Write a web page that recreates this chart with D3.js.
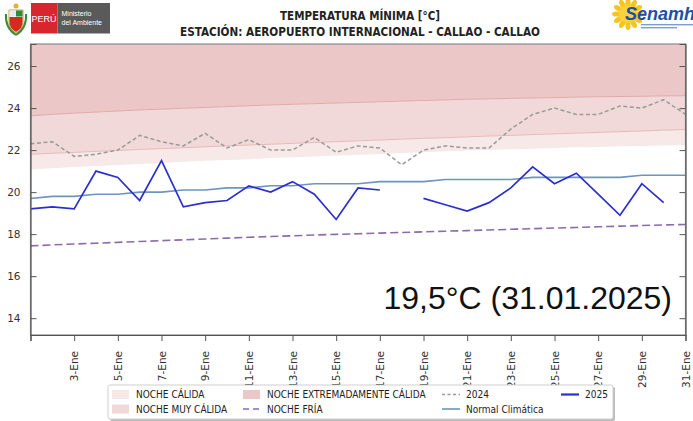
<!DOCTYPE html>
<html>
<head>
<meta charset="utf-8">
<title>Temperatura mínima - Callao</title>
<script src="https://cdn.jsdelivr.net/npm/d3@7"></script>
<style>
  body { margin: 0; background: #fff; }
  svg { display: block; font-family: "DejaVu Sans Condensed", "DejaVu Sans", sans-serif; }
</style>
</head>
<body>
<svg width="693" height="421"></svg>
<script>
// dias de enero
var days = [1, 2, 3, 4, 5, 6, 7, 8, 9, 10, 11, 12, 13, 14, 15, 16, 17, 18, 19, 20, 21, 22, 23, 24, 25, 26, 27, 28, 29, 30, 31];
var tickDays = [3, 5, 7, 9, 11, 13, 15, 17, 19, 21, 23, 25, 27, 29, 31];
var tickLabels = ["3-Ene", "5-Ene", "7-Ene", "9-Ene", "11-Ene", "13-Ene", "15-Ene", "17-Ene", "19-Ene", "21-Ene", "23-Ene", "25-Ene", "27-Ene", "29-Ene", "31-Ene"];
var yTicks = [14, 16, 18, 20, 22, 24, 26];

var t2025 = [19.2, 19.3, 19.2, 21.0, 20.7, 19.6, 21.5, 19.3, 19.5, 19.6, 20.3, 20.0, 20.5, 19.9, 18.7, 20.2, 20.1, null, 19.7, 19.4, 19.1, 19.5, 20.2, 21.2, 20.4, 20.9, 19.9, 18.9, 20.4, 19.5, null];
var t2024 = [22.3, 22.4, 21.7, 21.8, 22.0, 22.7, 22.4, 22.2, 22.8, 22.1, 22.5, 22.0, 22.0, 22.6, 21.9, 22.2, 22.1, 21.3, 22.0, 22.2, 22.1, 22.1, 23.0, 23.7, 24.0, 23.7, 23.7, 24.1, 24.0, 24.4, 23.7];
var normal = [19.7, 19.8, 19.8, 19.9, 19.9, 20.0, 20.0, 20.1, 20.1, 20.2, 20.2, 20.3, 20.3, 20.4, 20.4, 20.4, 20.5, 20.5, 20.5, 20.6, 20.6, 20.6, 20.6, 20.7, 20.7, 20.7, 20.7, 20.7, 20.8, 20.8, 20.8];
// umbrales
var limCalida = [21.08, 21.14, 21.19, 21.24, 21.29, 21.34, 21.39, 21.44, 21.49, 21.53, 21.57, 21.62, 21.66, 21.70, 21.74, 21.78, 21.82, 21.86, 21.90, 21.94, 21.98, 22.01, 22.04, 22.07, 22.10, 22.13, 22.15, 22.18, 22.20, 22.22, 22.24];
var limMuyCalida = [21.80, 21.85, 21.89, 21.94, 21.98, 22.03, 22.07, 22.11, 22.16, 22.20, 22.24, 22.28, 22.32, 22.36, 22.40, 22.44, 22.48, 22.52, 22.56, 22.59, 22.63, 22.67, 22.70, 22.74, 22.77, 22.81, 22.84, 22.88, 22.91, 22.95, 22.98];
var limExtrema = [23.63, 23.70, 23.76, 23.81, 23.86, 23.91, 23.95, 23.99, 24.03, 24.07, 24.11, 24.15, 24.18, 24.21, 24.24, 24.27, 24.30, 24.33, 24.36, 24.39, 24.42, 24.44, 24.46, 24.48, 24.50, 24.52, 24.54, 24.55, 24.56, 24.58, 24.59];
var limFria = [17.44, 17.49, 17.53, 17.57, 17.61, 17.65, 17.69, 17.73, 17.77, 17.81, 17.85, 17.89, 17.92, 17.96, 17.99, 18.02, 18.05, 18.08, 18.11, 18.14, 18.17, 18.20, 18.23, 18.26, 18.29, 18.32, 18.35, 18.38, 18.41, 18.44, 18.46];

var svg = d3.select("svg");
var L = 30.5, R = 685.5, T = 44, B = 335;
var x = d3.scaleLinear().domain([1, 31]).range([L, R]);
var y = d3.scaleLinear().domain([13.2, 27.05]).range([B, T]);

svg.append("clipPath").attr("id", "clip")
  .append("rect").attr("x", L).attr("y", T).attr("width", R - L).attr("height", B - T);
var plot = svg.append("g").attr("clip-path", "url(#clip)");

// bandas
function band(lo, hi, fill) {
  var area = d3.area()
    .x(function (d, i) { return x(days[i]); })
    .y0(function (d, i) { return y(lo[i]); })
    .y1(function (d, i) { return y(hi ? hi[i] : 27.05); });
  plot.append("path").datum(days).attr("d", area).attr("fill", fill);
}
band(limExtrema, null, "#ebc7c7");
band(limMuyCalida, limExtrema, "#f2d9d9");
band(limCalida, limMuyCalida, "#f6e9e8");

function line(vals, color, width, dash) {
  var ln = d3.line()
    .defined(function (d, i) { return vals[i] != null; })
    .x(function (d, i) { return x(days[i]); })
    .y(function (d, i) { return y(vals[i]); });
  var p = plot.append("path").datum(days).attr("d", ln)
    .attr("fill", "none").attr("stroke", color).attr("stroke-width", width);
  if (dash) p.attr("stroke-dasharray", dash);
  return p;
}
line(limExtrema, "#e3a9a9", 1);
line(limMuyCalida, "#e8b9b9", 1);
line(limFria, "#8c6bab", 1.6, "8,4");
line(normal, "#6d95bf", 1.6);
line(t2024, "#9a9a9a", 1.5, "4,2.5");
line(t2025, "#2b2fd0", 1.7);

// marco
svg.append("rect").attr("x", L).attr("y", T).attr("width", R - L).attr("height", B - T)
  .attr("fill", "none").attr("stroke", "#8a8a8a").attr("stroke-width", 1.2);

// ejes
var yAxis = svg.append("g").attr("transform", "translate(" + L + ",0)")
  .call(d3.axisLeft(y).tickValues(yTicks).tickSize(-6).tickPadding(10).tickFormat(d3.format("d")));
var yAxisR = svg.append("g").attr("transform", "translate(" + R + ",0)")
  .call(d3.axisRight(y).tickValues(yTicks).tickSize(-6).tickFormat(""));
var xAxis = svg.append("g").attr("transform", "translate(0," + B + ")")
  .call(d3.axisBottom(x).tickValues([1].concat(tickDays)).tickSize(6)
    .tickFormat(function (d) { var k = tickDays.indexOf(d); return k < 0 ? "" : tickLabels[k]; }));
[yAxis, yAxisR, xAxis].forEach(function (g) {
  g.select(".domain").attr("stroke", "#555").attr("stroke-width", 1.2);
  g.selectAll(".tick line").attr("stroke", "#555");
  g.selectAll("text").attr("fill", "#333").attr("font-size", 10.5)
    .attr("font-family", "DejaVu Sans, sans-serif");
});
xAxis.selectAll(".tick text")
  .attr("transform", "rotate(-90)")
  .attr("text-anchor", "end")
  .attr("x", -16).attr("y", 0).attr("dy", "0.35em");

// anotacion
svg.append("text").attr("x", 672).attr("y", 309).attr("text-anchor", "end")
  .attr("font-family", "Liberation Sans, Arial, sans-serif").attr("font-size", 32)
  .attr("fill", "#111").text("19,5°C (31.01.2025)");

// titulo
svg.append("text").attr("x", 360).attr("y", 20).attr("text-anchor", "middle")
  .attr("font-weight", "bold").attr("font-size", 12.5).attr("fill", "#222")
  .attr("textLength", 160).attr("lengthAdjust", "spacingAndGlyphs")
  .text("TEMPERATURA MÍNIMA [°C]");
svg.append("text").attr("x", 360).attr("y", 36).attr("text-anchor", "middle")
  .attr("font-weight", "bold").attr("font-size", 12.5).attr("fill", "#222")
  .attr("textLength", 360).attr("lengthAdjust", "spacingAndGlyphs")
  .text("ESTACIÓN: AEROPUERTO INTERNACIONAL - CALLAO - CALLAO");

// logos (simplificados)
var lg = svg.append("g");
lg.append("path").attr("d", "M9,10 L23,10 L23,22 Q23,30 16,33 Q9,30 9,22 Z")
  .attr("fill", "#fff").attr("stroke", "#c8a22c").attr("stroke-width", 1);
lg.append("rect").attr("x", 9.5).attr("y", 10.5).attr("width", 6.5).attr("height", 6).attr("fill", "#e7eaf0");
lg.append("rect").attr("x", 16).attr("y", 10.5).attr("width", 6.5).attr("height", 6).attr("fill", "#2e8b3e");
lg.append("path").attr("d", "M9.5,17 L22.5,17 L22.5,22 Q22.5,29 16,32 Q9.5,29 9.5,22 Z").attr("fill", "#d52b1e");
lg.append("path").attr("d", "M6,14 Q5,28 16,35 M26,14 Q27,28 16,35").attr("fill", "none")
  .attr("stroke", "#3f8a3a").attr("stroke-width", 2);
lg.append("circle").attr("cx", 16).attr("cy", 6).attr("r", 2.5).attr("fill", "#d9b13b");
lg.append("rect").attr("x", 31).attr("y", 3).attr("width", 26.5).attr("height", 30.5).attr("fill", "#d7262e");
lg.append("rect").attr("x", 57.5).attr("y", 3).attr("width", 52.5).attr("height", 30.5).attr("fill", "#5a5a5a");
lg.append("text").attr("x", 44).attr("y", 21.5).attr("text-anchor", "middle").attr("fill", "#fff")
  .attr("font-size", 9).attr("font-family", "Liberation Sans Narrow, Liberation Sans, sans-serif").text("PERÚ");
lg.append("text").attr("x", 61.5).attr("y", 16).attr("fill", "#fff").attr("font-size", 7)
  .attr("font-family", "Liberation Sans, sans-serif").text("Ministerio");
lg.append("text").attr("x", 61.5).attr("y", 25).attr("fill", "#fff").attr("font-size", 7)
  .attr("font-family", "Liberation Sans, sans-serif").text("del Ambiente");

var sg = svg.append("g");
var sunC = [628, 14];
d3.range(0, 360, 30).forEach(function (a) {
  var r = a * Math.PI / 180;
  sg.append("ellipse").attr("cx", sunC[0] + Math.cos(r) * 11).attr("cy", sunC[1] + Math.sin(r) * 11)
    .attr("rx", 5).attr("ry", 2.6).attr("fill", "#f7c51e")
    .attr("transform", "rotate(" + a + "," + (sunC[0] + Math.cos(r) * 11) + "," + (sunC[1] + Math.sin(r) * 11) + ")");
});
sg.append("circle").attr("cx", sunC[0]).attr("cy", sunC[1]).attr("r", 9).attr("fill", "#f9d33a");
sg.append("text").attr("x", 625).attr("y", 20).attr("font-weight", "bold").attr("font-style", "italic")
  .attr("font-size", 18).attr("fill", "#1d4fa8").attr("font-family", "Liberation Sans, sans-serif").text("Senamhi");
sg.append("rect").attr("x", 641).attr("y", 24).attr("width", 52).attr("height", 1.4).attr("fill", "#7f9bd0");
sg.append("rect").attr("x", 641).attr("y", 27).attr("width", 36).attr("height", 1.4).attr("fill", "#7f9bd0");

// leyenda
var leg = svg.append("g");
leg.append("rect").attr("x", 110).attr("y", 387).attr("width", 505).attr("height", 34)
  .attr("rx", 2).attr("fill", "#bbb");
leg.append("rect").attr("x", 108).attr("y", 385).attr("width", 505).attr("height", 34)
  .attr("rx", 2).attr("fill", "#fff").attr("stroke", "#cfcfcf");
var legItems = [
  { label: "NOCHE CÁLIDA", type: "box", color: "#f6e9e8", x: 112, row: 0 },
  { label: "NOCHE MUY CÁLIDA", type: "box", color: "#f2d9d9", x: 112, row: 1 },
  { label: "NOCHE EXTREMADAMENTE CÁLIDA", type: "box", color: "#ebc7c7", x: 243, row: 0 },
  { label: "NOCHE FRÍA", type: "line", color: "#8c6bab", dash: "6,4", x: 243, row: 1 },
  { label: "2024", type: "line", color: "#9a9a9a", dash: "3,2.5", x: 442, row: 0 },
  { label: "Normal Climática", type: "line", color: "#6d95bf", x: 442, row: 1 },
  { label: "2025", type: "line", color: "#2b2fd0", x: 561, row: 0 }
];
legItems.forEach(function (it) {
  var cy = 394.5 + it.row * 14.5;
  if (it.type === "box") {
    leg.append("rect").attr("x", it.x).attr("y", cy - 4.5).attr("width", 17).attr("height", 9).attr("fill", it.color);
  } else {
    var l = leg.append("line").attr("x1", it.x).attr("x2", it.x + 18).attr("y1", cy).attr("y2", cy)
      .attr("stroke", it.color).attr("stroke-width", it.label === "2025" ? 2.2 : 1.6);
    if (it.dash) l.attr("stroke-dasharray", it.dash);
  }
  leg.append("text").attr("x", it.x + 24).attr("y", cy).attr("dy", "0.35em")
    .attr("font-size", 10).attr("fill", "#222").text(it.label);
});
</script>
</body>
</html>
